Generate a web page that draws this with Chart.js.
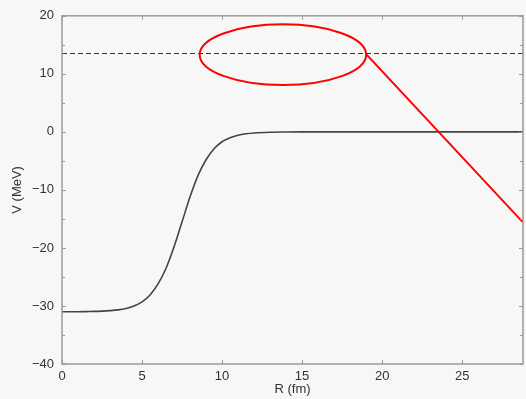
<!DOCTYPE html>
<html lang="en">
<head>
<meta charset="UTF-8">
<title>Woods-Saxon potential</title>
<script src="https://cdn.jsdelivr.net/npm/chart.js"></script>
<style>
  body { margin: 0; background: #f7f7f7; }
  #wrap { width: 526px; height: 399px; }
</style>
</head>
<body>
<div id="wrap"><canvas id="pot" width="526" height="399"></canvas></div>
<script>
// values
const radius = [0, 0.5, 1, 1.5, 2, 2.5, 3, 3.5, 4, 4.5, 5, 5.5, 6, 6.5, 7, 7.5,
                8, 8.5, 9, 9.5, 10, 10.5, 11, 11.5, 12, 13, 14, 15, 20, 25, 28.8];
const potential = [-31.0, -31.0, -31.0, -30.97, -30.94, -30.89, -30.81, -30.68, -30.43, -30.0, -29.3, -28.1, -26.2, -23.5, -19.8, -15.5,
                   -11.2, -7.5, -4.8, -2.9, -1.7, -1.0, -0.57, -0.33, -0.19, -0.06, -0.02, 0, 0, 0, 0];
const barrierR = [0, 28.8];
const barrierV = [13.5, 13.5];
const pointerR = [19.03, 28.8];
const pointerV = [13.3, -15.6];
const ringCenter = [13.8, 13.3];   // R, V
const ringRadii = [5.2, 5.23];     // in R and V units

const xTicks = [0, 5, 10, 15, 20, 25];
const yTicks = [-40, -35, -30, -25, -20, -15, -10, -5, 0, 5, 10, 15, 20];

const toPts = (xs, ys) => xs.map((x, i) => ({ x: x, y: ys[i] }));
const minus = v => v < 0 ? '\u2212' + Math.abs(v) : String(v);
const font = { family: '"Liberation Sans", Arial, sans-serif', size: 13 };

// frame, inward ticks and the red ring
const decor = {
  id: 'decor',
  afterDatasetsDraw(chart) {
    const { ctx, chartArea: a, scales: { x, y } } = chart;
    ctx.save();
    // red ring
    const cx = x.getPixelForValue(ringCenter[0]);
    const cy = y.getPixelForValue(ringCenter[1]);
    const rx = Math.abs(x.getPixelForValue(ringCenter[0] + ringRadii[0]) - cx);
    const ry = Math.abs(y.getPixelForValue(ringCenter[1] + ringRadii[1]) - cy);
    ctx.strokeStyle = '#ff0000';
    ctx.lineWidth = 2;
    ctx.beginPath();
    ctx.ellipse(cx, cy, rx, ry, 0, 0, Math.PI * 2);
    ctx.stroke();

    // frame
    ctx.strokeStyle = '#9a9a9a';
    ctx.lineWidth = 1.5;
    ctx.strokeRect(a.left, a.top, a.right - a.left, a.bottom - a.top);

    // ticks pointing in
    ctx.lineWidth = 1;
    ctx.beginPath();
    xTicks.forEach(v => {
      const px = Math.round(x.getPixelForValue(v)) + 0.5;
      ctx.moveTo(px, a.bottom); ctx.lineTo(px, a.bottom - 4);
      ctx.moveTo(px, a.top); ctx.lineTo(px, a.top + 4);
    });
    yTicks.forEach(v => {
      const py = Math.round(y.getPixelForValue(v)) + 0.5;
      const len = v % 10 === 0 ? 4 : 3;
      ctx.moveTo(a.left, py); ctx.lineTo(a.left + len, py);
      ctx.moveTo(a.right, py); ctx.lineTo(a.right - len, py);
    });
    ctx.stroke();
    ctx.restore();
  }
};

new Chart(document.getElementById('pot'), {
  type: 'line',
  data: {
    datasets: [
      {
        data: toPts(radius, potential),
        borderColor: '#444444',
        borderWidth: 1.6,
        pointRadius: 0,
        cubicInterpolationMode: 'monotone'
      },
      {
        data: toPts(barrierR, barrierV),
        borderColor: '#333333',
        borderWidth: 1.2,
        borderDash: [5, 3],
        pointRadius: 0
      },
      {
        data: toPts(pointerR, pointerV),
        borderColor: '#ff0000',
        borderWidth: 2,
        pointRadius: 0
      }
    ]
  },
  options: {
    responsive: false,
    animation: false,
    layout: { padding: { top: 14, right: 3, left: 0, bottom: 0 } },
    plugins: { legend: { display: false }, tooltip: { enabled: false } },
    scales: {
      x: {
        type: 'linear',
        min: 0,
        max: 28.8,
        grid: { display: false, drawTicks: false, tickLength: 0 },
        border: { display: false },
        ticks: {
          stepSize: 5,
          includeBounds: false,
          padding: 5,
          color: '#333',
          font: font
        },
        title: {
          display: true,
          text: 'R (fm)',
          color: '#333',
          padding: { top: 0, bottom: 2 },
          font: font
        },
        afterFit: s => { s.height = 35; }
      },
      y: {
        min: -40,
        max: 20,
        grid: { display: false, drawTicks: false, tickLength: 0 },
        border: { display: false },
        ticks: {
          stepSize: 10,
          padding: 8,
          color: '#333',
          callback: v => minus(v),
          font: font
        },
        title: {
          display: true,
          text: 'V (MeV)',
          color: '#333',
          padding: { top: 10, bottom: 4 },
          font: font
        },
        afterFit: s => { s.width = 62; }
      }
    }
  },
  plugins: [decor]
});
</script>
</body>
</html>
